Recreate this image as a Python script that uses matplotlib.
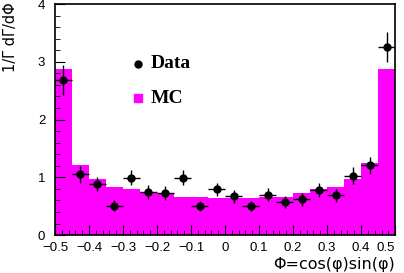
import numpy as np
import matplotlib
matplotlib.use('Agg')
import matplotlib.pyplot as plt
from matplotlib.ticker import MultipleLocator

# Data
bin_edges = np.round(np.arange(-0.5, 0.5001, 0.05), 3)
mc = [2.88, 1.22, 0.97, 0.83, 0.79, 0.74, 0.71, 0.66, 0.66, 0.64,
      0.64, 0.64, 0.66, 0.66, 0.72, 0.80, 0.83, 0.97, 1.24, 2.88]
data_y = [2.69, 1.05, 0.88, 0.51, 0.99, 0.74, 0.73, 0.99, 0.50, 0.79,
          0.67, 0.50, 0.70, 0.57, 0.62, 0.78, 0.69, 1.03, 1.21, 3.26]
data_err = [0.26, 0.15, 0.12, 0.09, 0.13, 0.12, 0.12, 0.13, 0.09, 0.12,
            0.11, 0.09, 0.11, 0.10, 0.11, 0.12, 0.11, 0.14, 0.15, 0.26]
xticks = [-0.5, -0.4, -0.3, -0.2, -0.1, 0, 0.1, 0.2, 0.3, 0.4, 0.5]

centers = 0.5 * (bin_edges[:-1] + bin_edges[1:])
half_w = 0.5 * np.diff(bin_edges)

fig = plt.figure(figsize=(4.04, 2.73), dpi=100)
ax = fig.add_axes([0.136, 0.139, 0.842, 0.846])

ax.bar(bin_edges[:-1], mc, width=np.diff(bin_edges), align='edge',
       color='#ff00ff', edgecolor='none', linewidth=0)
ax.errorbar(centers, data_y, xerr=half_w, yerr=data_err, fmt='o',
            color='black', markersize=5, elinewidth=1, capsize=0)

ax.set_xlim(-0.5, 0.5)
ax.set_ylim(0, 4)
ax.xaxis.set_minor_locator(MultipleLocator(0.02))
ax.yaxis.set_major_locator(MultipleLocator(1))
ax.yaxis.set_minor_locator(MultipleLocator(0.2))
ax.tick_params(which='both', direction='in', top=False, right=False,
               labelsize=9.5, labelfontfamily='Liberation Sans')
ax.tick_params(which='major', length=7, width=0.8)
ax.tick_params(which='minor', length=3.5, width=0.6)
ax.tick_params(axis='x', which='major', pad=5)
ax.tick_params(axis='y', which='major', pad=7)
for s in ax.spines.values():
    s.set_linewidth(1.2)

def fmt(v):
    s = '%g' % v
    return s.replace('-', '\u2212')
ax.set_xticks(xticks)
ax.set_xticklabels([fmt(v) for v in xticks])
ax.get_xticklabels()[-1].set_ha('right')
ax.get_xticklabels()[-1].set_x(0.5)

ax.set_ylabel('1/\u0393 d\u0393/d\u03a6', fontsize=10.5, family='DejaVu Sans')
ax.yaxis.set_label_coords(-0.11, 0.855)
ax.set_xlabel('\u03a6=cos(\u03c6)sin(\u03c6)', fontsize=11.5, family='DejaVu Sans',
              ha='right')
ax.xaxis.set_label_coords(1.0, -0.095)

# legend drawn by hand like the ROOT one
ax.plot([-0.255], [2.97], 'o', color='black', markersize=5)
ax.text(-0.22, 2.97, 'Data', fontsize=14, fontweight='bold',
        family='Liberation Serif', va='center')
ax.plot([-0.255], [2.37], 's', color='#ff00ff', markersize=5.5)
ax.text(-0.22, 2.37, 'MC', fontsize=14, fontweight='bold',
        family='Liberation Serif', va='center')

fig.savefig('out.png', dpi=100)
